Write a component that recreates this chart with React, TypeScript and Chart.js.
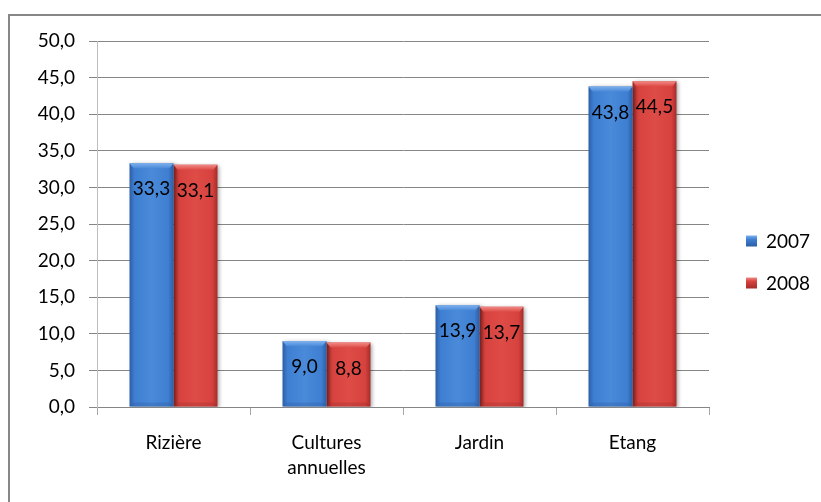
import React, { useEffect, useRef } from "react";
import { Chart, registerables } from "chart.js";

Chart.register(...registerables);

// Parts of the surveyed area by land use, per year
const CATEGORIES: (string | string[])[] = ["Rizière", ["Cultures", "annuelles"], "Jardin", "Etang"];
const SERIES_2007 = [33.3, 9.0, 13.9, 43.8];
const SERIES_2008 = [33.1, 8.8, 13.7, 44.5];
const SERIES_NAMES = ["2007", "2008"];
const Y_MIN = 0;
const Y_MAX = 50;
const Y_STEP = 5;

const FONT = "Lato, 'Liberation Sans', sans-serif";
const FONT_SIZE = 19;
const CAT_PCT = 0.575;

type Palette = { edge: string; mid: string; light: string; top: string; bottom: string };
const BLUE: Palette = { edge: "#2c5ea6", mid: "#3f7fd2", light: "#4a8ad9", top: "#7fb1ee", bottom: "#2a579a" };
const RED: Palette = { edge: "#a52c29", mid: "#d7423e", light: "#de4c47", top: "#f08a86", bottom: "#9a2a27" };
const PALETTES = [BLUE, RED];

const fmt = (v: number) => v.toFixed(1).replace(".", ",");

function barFill(c: any, pal: Palette) {
  const chart = c.chart;
  const xs = chart.scales && chart.scales.x;
  if (!xs || !chart.chartArea || c.dataIndex === undefined || c.dataIndex === null) return pal.mid;
  const group = (xs.width / CATEGORIES.length) * CAT_PCT;
  const bw = group / 2;
  const left = xs.getPixelForValue(c.dataIndex) - group / 2 + c.datasetIndex * bw;
  if (!isFinite(left)) return pal.mid;
  const g = chart.ctx.createLinearGradient(left, 0, left + bw, 0);
  g.addColorStop(0, pal.edge);
  g.addColorStop(0.12, pal.mid);
  g.addColorStop(0.5, pal.light);
  g.addColorStop(0.88, pal.mid);
  g.addColorStop(1, pal.edge);
  return g;
}

// Soft shadow behind each bar series
const barShadow = {
  id: "barShadow",
  beforeDatasetDraw(chart: any) {
    const ctx = chart.ctx;
    ctx.save();
    ctx.shadowColor = "rgba(0,0,0,0.35)";
    ctx.shadowBlur = 4;
    ctx.shadowOffsetX = 2;
    ctx.shadowOffsetY = 1;
  },
  afterDatasetDraw(chart: any) {
    chart.ctx.restore();
  },
};

// Bevelled top and darker foot on each bar, plus the value labels
const barDecor = {
  id: "barDecor",
  afterDatasetsDraw(chart: any) {
    const ctx = chart.ctx;
    chart.data.datasets.forEach((ds: any, di: number) => {
      const pal = PALETTES[di];
      const meta = chart.getDatasetMeta(di);
      meta.data.forEach((el: any) => {
        const l = el.x - el.width / 2;
        const r = el.x + el.width / 2;
        const t = el.y;
        const b = el.base;
        ctx.save();
        // top bevel
        ctx.beginPath();
        ctx.moveTo(l, t);
        ctx.lineTo(r, t);
        ctx.lineTo(r - 4, t + 5);
        ctx.lineTo(l + 4, t + 5);
        ctx.closePath();
        const gt = ctx.createLinearGradient(0, t, 0, t + 5);
        gt.addColorStop(0, pal.top);
        gt.addColorStop(1, pal.light);
        ctx.fillStyle = gt;
        ctx.fill();
        // foot
        ctx.beginPath();
        ctx.moveTo(l + 4, b - 4);
        ctx.lineTo(r - 4, b - 4);
        ctx.lineTo(r, b);
        ctx.lineTo(l, b);
        ctx.closePath();
        ctx.fillStyle = pal.bottom;
        ctx.globalAlpha = 0.3;
        ctx.fill();
        ctx.restore();
      });
    });
    ctx.save();
    ctx.font = `${FONT_SIZE}px ${FONT}`;
    ctx.fillStyle = "#000";
    ctx.textAlign = "center";
    ctx.textBaseline = "middle";
    chart.data.datasets.forEach((ds: any, di: number) => {
      const meta = chart.getDatasetMeta(di);
      meta.data.forEach((el: any, i: number) => {
        ctx.fillText(fmt(ds.data[i]), el.x, el.y + 26);
      });
    });
    ctx.restore();
  },
};

// Legend to the right of the plot
const sideLegend = {
  id: "sideLegend",
  afterDraw(chart: any) {
    const ctx = chart.ctx;
    const area = chart.chartArea;
    const x0 = area.right + 37;
    const ys = [241, 283];
    ctx.save();
    ctx.font = `${FONT_SIZE}px ${FONT}`;
    ctx.textBaseline = "middle";
    ctx.textAlign = "left";
    SERIES_NAMES.forEach((name, i) => {
      const pal = PALETTES[i];
      const y = ys[i];
      const g = ctx.createLinearGradient(0, y - 5.5, 0, y + 5.5);
      g.addColorStop(0, pal.top);
      g.addColorStop(0.35, pal.mid);
      g.addColorStop(1, pal.edge);
      ctx.fillStyle = g;
      ctx.fillRect(x0, y - 5.5, 11, 11);
      ctx.fillStyle = "#000";
      ctx.fillText(name, x0 + 20, y + 1);
    });
    ctx.restore();
  },
};

export default function App() {
  const ref = useRef<HTMLCanvasElement | null>(null);

  useEffect(() => {
    if (!ref.current) return;
    const chart = new Chart(ref.current, {
      type: "bar",
      data: {
        labels: CATEGORIES as any,
        datasets: [
          {
            label: SERIES_NAMES[0],
            data: SERIES_2007,
            backgroundColor: (c: any) => barFill(c, BLUE),
            borderWidth: 0,
          },
          {
            label: SERIES_NAMES[1],
            data: SERIES_2008,
            backgroundColor: (c: any) => barFill(c, RED),
            borderWidth: 0,
          },
        ],
      },
      options: {
        animation: false,
        responsive: false,
        maintainAspectRatio: false,
        datasets: { bar: { categoryPercentage: CAT_PCT, barPercentage: 1 } },
        layout: { padding: { top: 41, left: 0, right: 112, bottom: 0 } },
        plugins: { legend: { display: false }, tooltip: { enabled: false } },
        scales: {
          x: {
            offset: true,
            grid: { display: true, drawOnChartArea: false, drawTicks: true, tickLength: 8, color: "#a6a6a6", offset: true },
            border: { display: true, color: "#868686" },
            ticks: {
              color: "#000",
              font: { family: FONT, size: FONT_SIZE, lineHeight: 1.28 },
              padding: 16,
              maxRotation: 0,
              autoSkip: false,
            },
            afterFit: (s: any) => {
              s.height = 95;
            },
          },
          y: {
            min: Y_MIN,
            max: Y_MAX,
            ticks: {
              stepSize: Y_STEP,
              color: "#000",
              font: { family: FONT, size: FONT_SIZE },
              padding: 14,
              callback: (v: any) => fmt(Number(v)),
            },
            grid: { color: "#868686", tickLength: 8, drawTicks: true },
            border: { display: true, color: "#bdbdbd" },
            afterFit: (s: any) => {
              s.width = 97;
            },
          },
        },
      },
      plugins: [barShadow, barDecor, sideLegend],
    });
    return () => chart.destroy();
  }, []);

  return (
    <div style={{ position: "absolute", left: 0, top: 0, width: 821, height: 502, background: "#fff", overflow: "hidden" }}>
      <div
        style={{
          position: "absolute",
          left: 8,
          top: 14,
          width: 813,
          height: 488,
          borderTop: "2px solid #878787",
          borderLeft: "2px solid #878787",
          boxSizing: "border-box",
        }}
      />
      <canvas ref={ref} width={821} height={502} style={{ position: "absolute", left: 0, top: 0 }} />
    </div>
  );
}
